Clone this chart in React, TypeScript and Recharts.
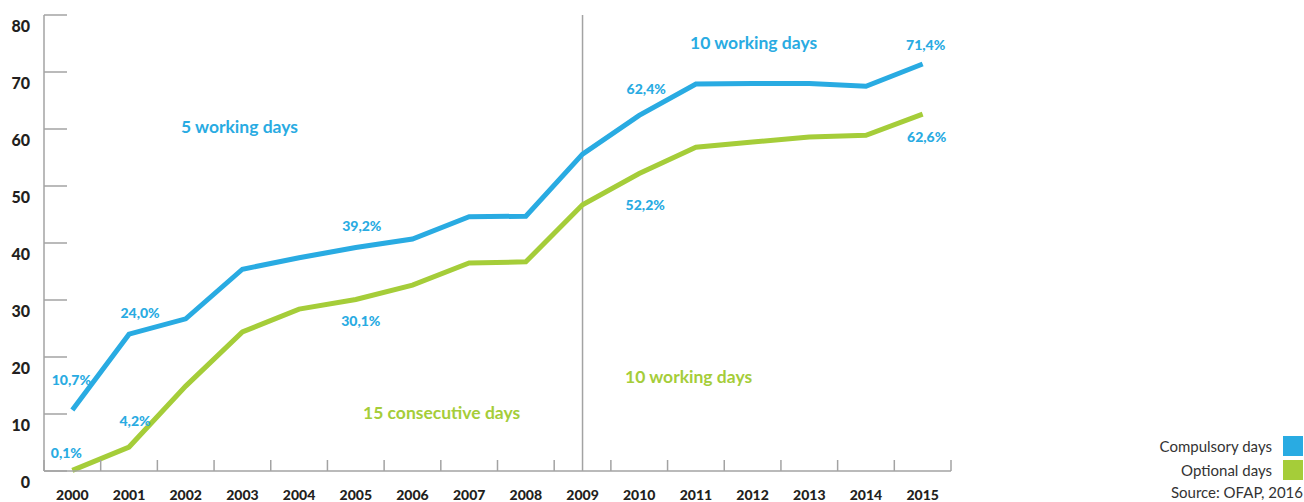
import { LabelList, Line, LineChart, ReferenceLine, XAxis, YAxis } from "recharts";

const years = ["2000", "2001", "2002", "2003", "2004", "2005", "2006", "2007", "2008", "2009", "2010", "2011", "2012", "2013", "2014", "2015"];
const compulsory = [10.7, 24.0, 26.7, 35.4, 37.4, 39.2, 40.7, 44.6, 44.7, 55.6, 62.4, 67.9, 68.0, 68.0, 67.5, 71.4];
const optional = [0.1, 4.2, 14.9, 24.4, 28.4, 30.1, 32.6, 36.5, 36.7, 46.7, 52.2, 56.8, 57.7, 58.6, 58.9, 62.6];
const compulsoryLabels = ["10,7%", "24,0%", "", "", "", "39,2%", "", "", "", "", "62,4%", "", "", "", "", "71,4%"];
const optionalLabels = ["0,1%", "4,2%", "", "", "", "30,1%", "", "", "", "", "52,2%", "", "", "", "", "62,6%"];
const yTicks = [0, 10, 20, 30, 40, 50, 60, 70, 80];
const splitYear = "2009";

const BLUE = "#29abe2";
const GREEN = "#a5cd39";
const AXIS = "#a3a3a3";
const DARK = "#231f20";
const FONT = "Lato, sans-serif";

const W = 1304;
const H = 502;
const Y_AXIS_W = 44;
const X_AXIS_H = 31;
const MARGIN = { top: 15, right: 353, bottom: 0, left: 0 };
const BAND = (W - Y_AXIS_W - MARGIN.right) / years.length;

const data = years.map((year, i) => ({
  year,
  compulsory: compulsory[i],
  optional: optional[i],
  cLabel: compulsoryLabels[i],
  oLabel: optionalLabels[i],
}));

// label nudges (dx, dy from the point) per year index
const blueNudge: Record<number, [number, number]> = {
  0: [-1, -30],
  1: [11, -21],
  5: [6, -21],
  10: [7, -26],
  15: [3, -19],
};
const greenNudge: Record<number, [number, number]> = {
  0: [-6, -17],
  1: [6, -26],
  5: [5, 22],
  10: [6, 32],
  15: [4, 23],
};

const makeLabel = (nudge: Record<number, [number, number]>) => (props: any) => {
  const { x, y, value, index } = props;
  if (!value) return null;
  const [dx, dy] = nudge[index] ?? [0, -22];
  return (
    <text
      x={Number(x) + dx}
      y={Number(y) + dy}
      dy="0.35em"
      textAnchor="middle"
      fill={BLUE}
      fontFamily={FONT}
      fontWeight={900}
      fontSize={14}
    >
      {value}
    </text>
  );
};

const XTick = (props: any) => {
  const { x, y, payload, index } = props;
  const isLast = index === years.length - 1;
  return (
    <g>
      <line x1={x - BAND / 2} x2={x - BAND / 2} y1={y} y2={y - 11} stroke={AXIS} strokeWidth={1.5} />
      {isLast && <line x1={x + BAND / 2} x2={x + BAND / 2} y1={y} y2={y - 11} stroke={AXIS} strokeWidth={1.5} />}
      <text x={x} y={y + 24} dy="0.35em" textAnchor="middle" fill={DARK} fontFamily={FONT} fontWeight={900} fontSize={14}>
        {payload.value}
      </text>
    </g>
  );
};

const YTick = (props: any) => {
  const { x, y, payload } = props;
  return (
    <g>
      <line x1={x} x2={x + 23} y1={y} y2={y} stroke={AXIS} strokeWidth={1.5} />
      <text x={x - 14} y={y + 11} dy="0.35em" textAnchor="end" fill={DARK} fontFamily={FONT} fontWeight={900} fontSize={16}>
        {payload.value}
      </text>
    </g>
  );
};

const note = (text: string, color: string, left: number, top: number) => (
  <div
    style={{
      position: "absolute",
      left,
      top,
      color,
      fontFamily: FONT,
      fontWeight: 700,
      fontSize: 17.5,
      lineHeight: "20px",
      whiteSpace: "nowrap",
    }}
  >
    {text}
  </div>
);

const legendRow = (text: string, color: string, top: number) => (
  <div style={{ position: "absolute", right: 1, top, display: "flex", alignItems: "center", height: 20 }}>
    <span style={{ fontFamily: FONT, fontSize: 15, color: "#333", marginRight: 11 }}>{text}</span>
    <span style={{ width: 20, height: 20, background: color, display: "inline-block" }} />
  </div>
);

export default function App() {
  return (
    <div style={{ position: "absolute", left: 0, top: 0, width: W, height: H, overflow: "hidden", background: "#fff" }}>
      <LineChart width={W} height={H} data={data} margin={MARGIN}>
        <XAxis
          dataKey="year"
          height={X_AXIS_H}
          padding={{ left: BAND / 2, right: BAND / 2 }}
          tickSize={0}
          tickMargin={0}
          tick={<XTick />}
          tickLine={false}
          axisLine={{ stroke: AXIS, strokeWidth: 1.5 }}
          interval={0}
        />
        <YAxis
          domain={[0, 80]}
          ticks={yTicks}
          tickSize={0}
          tickMargin={0}
          tick={<YTick />}
          tickLine={false}
          axisLine={{ stroke: AXIS, strokeWidth: 1.5 }}
          width={Y_AXIS_W}
        />
        <ReferenceLine x={splitYear} stroke={AXIS} strokeWidth={1.5} />
        <Line type="linear" dataKey="compulsory" stroke={BLUE} strokeWidth={5} dot={false} isAnimationActive={false}>
          <LabelList dataKey="cLabel" content={makeLabel(blueNudge)} />
        </Line>
        <Line type="linear" dataKey="optional" stroke={GREEN} strokeWidth={5} dot={false} isAnimationActive={false}>
          <LabelList dataKey="oLabel" content={makeLabel(greenNudge)} />
        </Line>
      </LineChart>
      {note("5 working days", BLUE, 181, 117)}
      {note("10 working days", BLUE, 690, 33)}
      {note("10 working days", GREEN, 625, 367)}
      {note("15 consecutive days", GREEN, 363, 403)}
      {legendRow("Compulsory days", BLUE, 436)}
      {legendRow("Optional days", GREEN, 460)}
      <div style={{ position: "absolute", right: 1, top: 483, fontFamily: FONT, fontSize: 15, color: "#333", whiteSpace: "nowrap" }}>
        Source: OFAP, 2016
      </div>
    </div>
  );
}
